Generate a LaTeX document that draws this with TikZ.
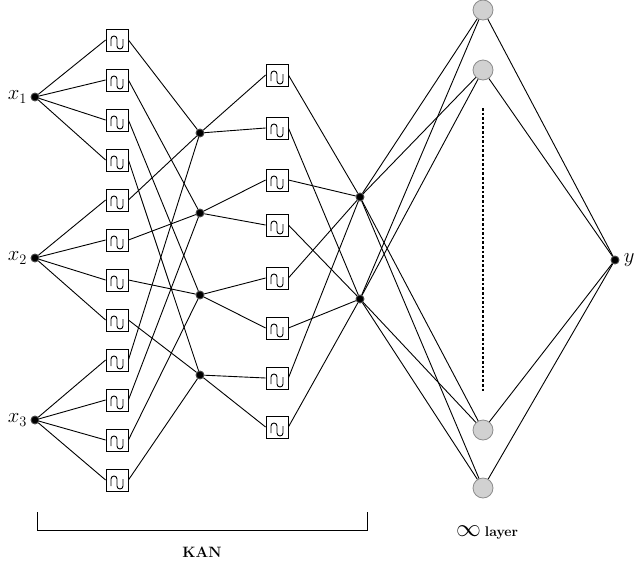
\documentclass[tikz,border=0pt]{standalone}
\begin{document}
\begin{tikzpicture}[x=1pt,y=-1pt,
  dotnode/.style={circle,fill=black,draw=black!70,line width=0.9pt,inner sep=0pt,minimum size=8pt},
  act/.style={draw,line width=0.8pt,minimum width=22pt,minimum height=22pt,inner sep=0pt,
    path picture={\draw[line width=0.9pt,x=1pt,y=1pt] ([xshift=-6pt,yshift=-6pt]path picture bounding box.center) -- ++(0,7) arc[start angle=180,end angle=0,radius=3pt] -- ++(0,-7) arc[start angle=180,end angle=360,radius=3pt] -- ++(0,7);}},
  gcirc/.style={circle,fill=black!18,draw=black!45,line width=0.8pt,minimum size=20pt,inner sep=0pt},
  edge/.style={line width=0.9pt},
  lbl/.style={font=\fontsize{22}{26}\selectfont}]
\useasboundingbox (0,0) rectangle (640,563);
\node[dotnode] (x1) at (35,97) {};
\node[dotnode] (x2) at (35,258) {};
\node[dotnode] (x3) at (35,420) {};
\node[lbl,left=0pt] at (x1.west) {$x_1$};
\node[lbl,left=0pt] at (x2.west) {$x_2$};
\node[lbl,left=0pt] at (x3.west) {$x_3$};
\foreach \j/\y in {1/133,2/213,3/295,4/375} \node[dotnode] (h\j) at (200,\y) {};
\node[dotnode] (o1) at (360,197) {};
\node[dotnode] (o2) at (360,299) {};
\foreach \k in {1,...,12} \node[act] (a\k) at (117,{40*\k}) {};
\foreach \k/\y in {1/75,2/128,3/180,4/225,5/278,6/328,7/378,8/427} \node[act] (b\k) at (277,\y) {};
\foreach \i in {1,2,3} \foreach \j in {1,...,4} {
  \pgfmathtruncatemacro\k{4*(\i-1)+\j}
  \draw[edge] (x\i) -- (a\k.west);
  \draw[edge] (a\k.east) -- (h\j);
}
\foreach \j in {1,...,4} {
  \pgfmathtruncatemacro\ka{2*\j-1}\pgfmathtruncatemacro\kb{2*\j}
  \draw[edge] (h\j) -- (b\ka.west); \draw[edge] (h\j) -- (b\kb.west);
  \draw[edge] (b\ka.east) -- (o1); \draw[edge] (b\kb.east) -- (o2);
}
\node[dotnode] (y) at (615,260) {};
\node[lbl,right=1pt] at (y.east) {$y$};
\foreach \c/\y in {1/10,2/70,3/430,4/488} {
  \node[gcirc] (c\c) at (483,\y) {};
  \draw[edge] (o1) -- (c\c); \draw[edge] (o2) -- (c\c); \draw[edge] (c\c) -- (y);
}
\coordinate (d1) at (483,108); \coordinate (d2) at (483,392);
\draw[line width=2.6pt,dotted] (d1) -- (d2);
\coordinate (k1) at (37,512); \coordinate (k2) at (367,512);
\draw[line width=0.9pt] (k1) -- ++(0,18) -| (k2);
\node (kan) at (202,552) {\fontsize{15}{18}\selectfont\textbf{KAN}};
\node (inf) at (487,533) {\fontsize{24}{26}\selectfont$\infty$\,\fontsize{14}{16}\selectfont\textbf{layer}};
\end{tikzpicture}
\end{document}
